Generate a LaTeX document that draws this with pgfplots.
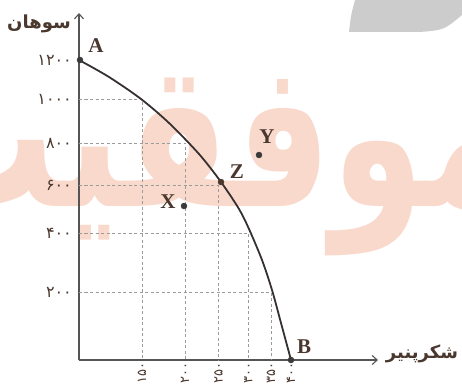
\documentclass[border=0pt]{standalone}
\usepackage{fontspec}
\usepackage{pgfplots}
\pgfplotsset{compat=1.18}
\usetikzlibrary{arrows.meta}
\setmainfont{Liberation Serif}
\newfontfamily\arabicfont[Script=Arabic]{DejaVu Sans}
\TeXXeTstate=1
\definecolor{axisc}{HTML}{555555}
\definecolor{curvec}{HTML}{363030}
\definecolor{gridc}{HTML}{9B9B9B}
\definecolor{labc}{HTML}{4A382E}
\definecolor{dotc}{HTML}{3A3A3A}
\definecolor{wmc}{HTML}{F9D9CC}
\definecolor{blobc}{HTML}{CCCCCC}
\tikzset{
  guide/.style = {gridc, line width=0.8pt, dash pattern=on 3pt off 2.5pt},
  letter/.style = {font=\fontsize{21}{21}\selectfont\bfseries, text=labc},
  title/.style = {text=labc, font=\fontsize{18}{18}\selectfont\arabicfont\bfseries},
}

\begin{document}
\begin{tikzpicture}
% background: watermark and grey blob (1 unit = 1pt, origin = axis origin)
\fill[blobc] (276pt,360pt) .. controls (272pt,345pt) .. (270pt,328pt)
  -- (341pt,328pt) .. controls (365pt,330pt) .. (383pt,345pt) -- (383pt,360pt) -- cycle;
\node[anchor=base, text=wmc, inner sep=0pt, yscale=1.35] at (133pt,153pt)
  {\fontsize{150}{150}\selectfont\arabicfont\bfseries\beginR موفقیت\endR};
\begin{axis}[
  at={(0,0)}, anchor=south west, scale only axis,
  width=299pt, height=347pt,
  xmin=0, xmax=299, ymin=0, ymax=347,
  axis lines=left, clip=false,
  axis line style={draw=axisc, line width=1.1pt, -{Straight Barb[length=5pt,width=9pt]}},
  major tick length=0pt,
  xtick={63,106,139.5,169.3,192,212},
  xticklabels={۱۵۰,۲۰۰,۲۵۰,۳۰۰,۳۵۰,۴۰۰},
  ytick={68,127,174.5,217,261,300},
  yticklabels={۲۰۰,۴۰۰,۶۰۰,۸۰۰,۱۰۰۰,۱۲۰۰},
  xticklabel style={rotate=90, anchor=east, inner sep=2pt, font=\fontsize{13}{13}\selectfont\arabicfont, text=labc},
  yticklabel style={font=\fontsize{16}{16}\selectfont\arabicfont, text=labc, inner sep=4pt, xshift=-3pt},
]
% guide lines from the axes to points on the frontier
\addplot[guide] coordinates {(0,261) (63,261) (63,0)};
\addplot[guide] coordinates {(0,217) (106,217) (106,0)};
\addplot[guide] coordinates {(0,174.5) (139.5,174.5) (139.5,0)};
\addplot[guide] coordinates {(0,127) (169.3,127) (169.3,0)};
\addplot[guide] coordinates {(0,68) (192,68) (192,0)};
% production possibilities frontier
\addplot[curvec, line width=1.8pt, smooth] coordinates {
 (0,300)(30,283)(62,261)(90,237)(120,206)(142,178)(160,151)
 (170,131)(183,100)(193,70)(202,37)(212,0)};
% marked points A, B, Z, X, Y
\addplot[only marks, mark=*, mark size=3pt, dotc] coordinates {(1,300)(212,0)(105,154)(180,205)};
\addplot[only marks, mark=*, mark size=3pt, labc] coordinates {(142,178)};
\node[letter] at (axis cs:17,314) {A};
\node[letter] at (axis cs:225,13) {B};
\node[letter] at (axis cs:158,188) {Z};
\node[letter] at (axis cs:89,158) {X};
\node[letter] at (axis cs:188,223) {Y};
% axis titles
\node[title] at (axis cs:-40,336) {\beginR سوهان\endR};
\node[title] at (axis cs:343,6) {\beginR شکرپنیر\endR};
\end{axis}
\pgfresetboundingbox
\useasboundingbox (-79pt,-28pt) rectangle (383pt,360pt);
\end{tikzpicture}
\end{document}
